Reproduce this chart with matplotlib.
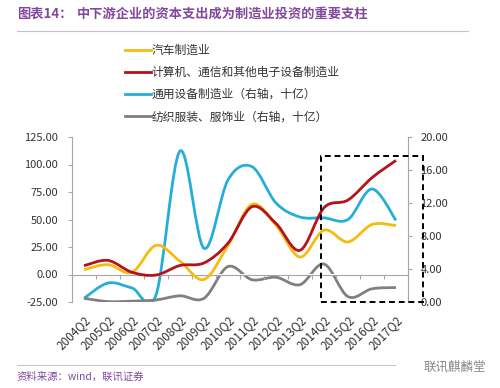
import numpy as np
import matplotlib
matplotlib.use("Agg")
import matplotlib.pyplot as plt
from matplotlib.path import Path
from matplotlib.patches import PathPatch, Rectangle
from matplotlib.lines import Line2D

plt.rcParams['font.family'] = ['Noto Sans CJK SC', 'DejaVu Sans']

# ---- data ----
quarters = ['2004Q2', '2005Q2', '2006Q2', '2007Q2', '2008Q2', '2009Q2', '2010Q2',
            '2011Q2', '2012Q2', '2013Q2', '2014Q2', '2015Q2', '2016Q2', '2017Q2']
auto = [4.3, 9.0, 2.0, 26.5, 12.0, -4.5, 26.5, 63.8, 44.8, 15.9, 40.3, 29.6, 45.5, 44.5]
electronics = [8.0, 12.8, 2.0, -0.5, 8.2, 10.5, 28.5, 61.6, 46.4, 22.0, 60.7, 67.7, 88.0, 103.7]
general_equip = [0.45, 2.3, 1.7, 0.85, 18.3, 6.5, 14.8, 16.4, 12.0, 10.3, 10.2, 10.0, 13.7, 9.9]
textile = [0.45, 0.05, 0.1, 0.25, 0.75, 0.45, 4.3, 2.7, 3.0, 2.1, 4.6, 0.65, 1.6, 1.75]

names = ['汽车制造业', '计算机、通信和其他电子设备制造业',
         '通用设备制造业（右轴，十亿）', '纺织服装、服饰业（右轴，十亿）']
colors = ['#F4BC12', '#B5121B', '#25AEDA', '#808080']

left_ticks = [-25, 0, 25, 50, 75, 100, 125]
right_ticks = [0, 4, 8, 12, 16, 20]

W, H = 500, 388
fig = plt.figure(figsize=(W / 100, H / 100), dpi=100)
ax = fig.add_axes([72 / W, 1 - 302 / H, 336 / W, 165 / H])
ax2 = ax.twinx()


def smooth(ax_, xs, ys, color):
    # excel-like smoothed line: cubic bezier through the points
    pts = np.column_stack([xs, ys]).astype(float)
    n = len(pts)
    verts = [pts[0]]
    codes = [Path.MOVETO]
    for i in range(n - 1):
        p0 = pts[max(i - 1, 0)]
        p1 = pts[i]
        p2 = pts[i + 1]
        p3 = pts[min(i + 2, n - 1)]
        verts += [p1 + (p2 - p0) / 6, p2 - (p3 - p1) / 6, p2]
        codes += [Path.CURVE4] * 3
    ax_.add_patch(PathPatch(Path(verts, codes), fill=False, edgecolor=color,
                            lw=2.0, capstyle='butt', joinstyle='round'))


x = np.arange(len(quarters))
smooth(ax, x, auto, colors[0])
smooth(ax, x, electronics, colors[1])
smooth(ax2, x, general_equip, colors[2])
smooth(ax2, x, textile, colors[3])
ax2.set_zorder(ax.get_zorder() - 1)
ax.patch.set_visible(False)

ax.set_xlim(-0.5, len(quarters) - 0.5)
ax.set_ylim(-25, 125)
ax2.set_ylim(0, 20)

ax.set_yticks(left_ticks)
ax.set_yticklabels(['%.2f' % v for v in left_ticks])
ax2.set_yticks(right_ticks)
ax2.set_yticklabels(['%.2f' % v for v in right_ticks])

for s in ['top', 'bottom', 'right']:
    ax.spines[s].set_visible(False)
for s in ['top', 'bottom', 'left']:
    ax2.spines[s].set_visible(False)
ax.spines['left'].set_color('#A6A6A6')
ax2.spines['right'].set_color('#A6A6A6')

ax.tick_params(axis='y', length=3, width=0.8, color='#A6A6A6', pad=7,
               labelsize=8, labelcolor='#333333')
ax2.tick_params(axis='y', length=3, width=0.8, color='#A6A6A6', pad=6,
                labelsize=8, labelcolor='#333333')

# category labels at bottom
ax.set_xticks(x)
ax.set_xticklabels(quarters, rotation=45, ha='right', va='top',
                   rotation_mode='anchor', fontsize=8.5, color='#333333')
ax.tick_params(axis='x', length=0, pad=8)

# zero line with category ticks
zero = ax.secondary_xaxis(25 / 150)
zero.spines['bottom'].set_color('#A6A6A6')
zero.set_xticks(np.arange(len(quarters) + 1) - 0.5)
zero.set_xticklabels([])
zero.tick_params(axis='x', length=3, width=0.8, color='#A6A6A6', direction='out')

# legend
handles = [Line2D([], [], color=c, lw=2.0) for c in colors]
fig.legend(handles, names, loc='upper left', bbox_to_anchor=(120 / W, 1 - 39 / H),
           frameon=False, fontsize=8.5, handlelength=2.2, handletextpad=0.1,
           labelspacing=0.78, borderaxespad=0, labelcolor='#333333')

# highlight box
fig.add_artist(Rectangle((320.7 / W, 1 - 301.7 / H), (423.3 - 320.7) / W,
                         (301.7 - 156) / H, transform=fig.transFigure,
                         fill=False, edgecolor='black', lw=1.4, ls=(0, (3, 2))))

# title, source, lines
purple = '#83489C'
fig.text(17 / W, 1 - 14 / H, '图表14：', fontsize=9.5, fontweight='bold',
         color=purple, va='center')
fig.text(77 / W, 1 - 14 / H, '中下游企业的资本支出成为制造业投资的重要支柱',
         fontsize=9.5, fontweight='bold', color=purple, va='center')
fig.add_artist(Line2D([17 / W, 468 / W], [1 - 31 / H, 1 - 31 / H],
                      transform=fig.transFigure, color='#C8C0CC', lw=0.8))
fig.add_artist(Line2D([17 / W, 395 / W], [1 - 365 / H, 1 - 365 / H],
                      transform=fig.transFigure, color='#C8C8C8', lw=0.8))
fig.text(17 / W, 1 - 377 / H, '资料来源：wind，联讯证券', fontsize=7.5,
         style='italic', color=purple, va='center')
fig.text(486 / W, 1 - 367 / H, '联讯麒麟堂', fontsize=9, color='#888888',
         ha='right', va='center')

fig.savefig('out.png', dpi=100)
